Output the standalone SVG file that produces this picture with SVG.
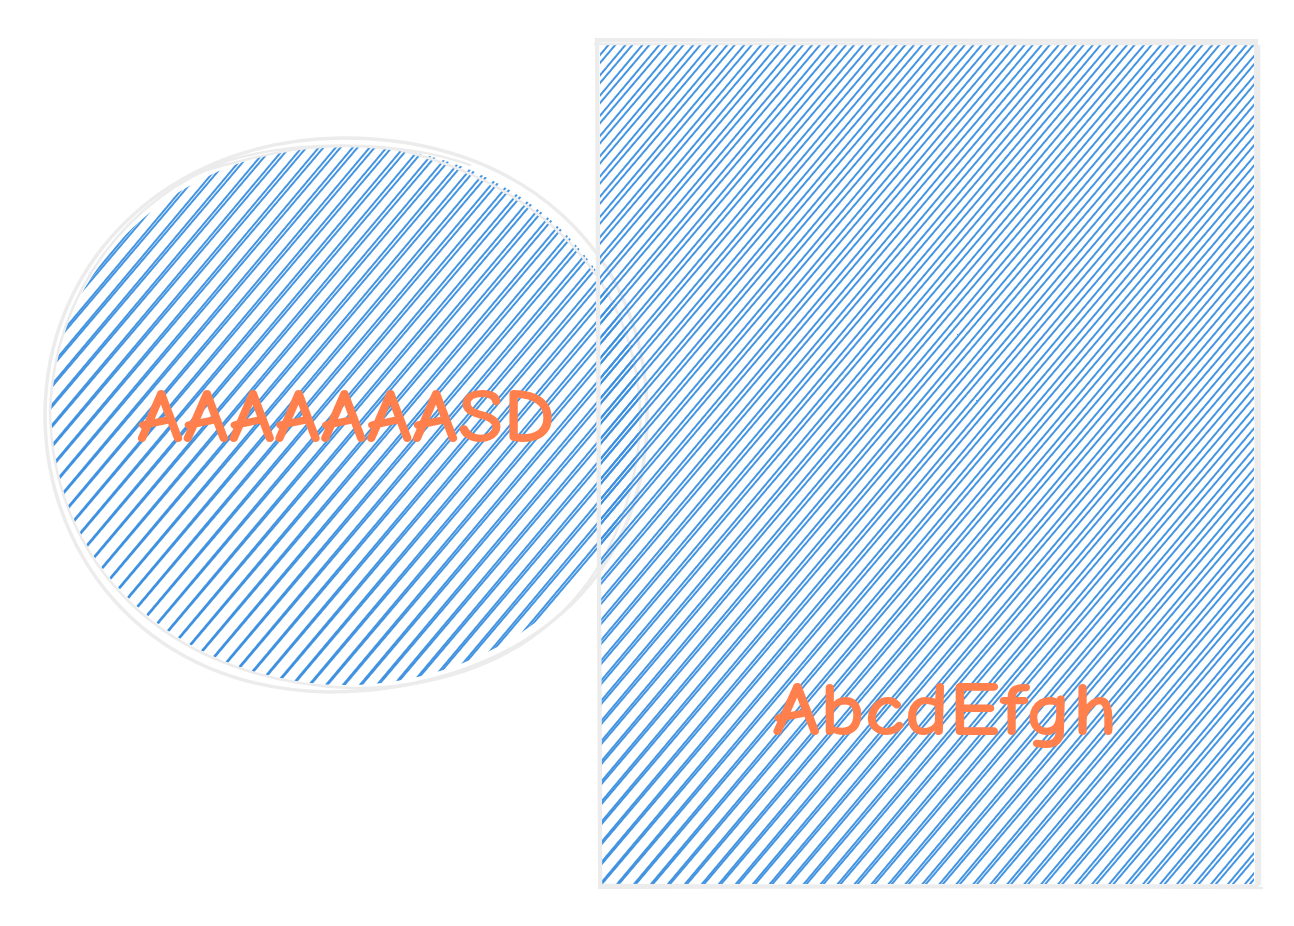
<svg xmlns="http://www.w3.org/2000/svg" width="1294" height="926" viewBox="0 0 1294 926">
<style>
.hl{stroke:#3a8fe0;stroke-width:1.9;fill:none}
.ol{fill:none;stroke:#ececec;stroke-linecap:round}
.lbl{font-family:"Comic Neue","Liberation Sans",sans-serif;font-size:76px;fill:#ff7f4d;font-weight:bold;text-anchor:middle}
</style>
<defs>
<pattern id="h1" patternUnits="userSpaceOnUse" width="13" height="20" patternTransform="rotate(40)">
<line class="hl" x1="1" y1="-2" x2="1" y2="22"/>
</pattern>
<pattern id="h2" patternUnits="userSpaceOnUse" width="13" height="20" patternTransform="rotate(40.35) translate(3 0)">
<line class="hl" x1="1" y1="-2" x2="1" y2="22" stroke-width="1.6"/>
</pattern>
<clipPath id="ce"><ellipse cx="346" cy="415" rx="296" ry="270"/></clipPath>
<clipPath id="cr"><rect x="600" y="44" width="654" height="840"/></clipPath>
</defs>
<g id="ellipse-node">
<g clip-path="url(#ce)">
<rect x="40" y="130" width="620" height="570" fill="url(#h1)"/>
<rect x="40" y="130" width="620" height="570" fill="url(#h2)"/>
</g>
<path class="ol" stroke-width="3.5" d="M330 692 C150 690 48 560 45 420 C43 260 170 140 340 138 C520 136 645 250 647 410 C650 580 520 690 330 692"/>
<path class="ol" stroke-width="2.5" d="M470 165 C400 140 300 140 230 160 C130 195 55 290 50 410 C52 560 160 680 350 688 C520 690 628 590 640 430 C645 300 560 190 400 150 C330 140 280 148 190 175"/>
<text class="lbl" x="346" y="442" textLength="418" lengthAdjust="spacingAndGlyphs">AAAAAAASD</text>
</g>
<g id="rect-node">
<g clip-path="url(#cr)">
<rect x="596" y="40" width="662" height="846" fill="url(#h1)"/>
<rect x="596" y="40" width="662" height="846" fill="url(#h2)"/>
</g>
<path class="ol" stroke-width="4" d="M597 40 L1256 41 L1257 886 L600 887 Z"/>
<path class="ol" stroke-width="2.5" d="M595 44 L1254 44 M1259 46 L1260 884 M1262 888 L603 885 M601 888 L598 42"/>
<text class="lbl" x="945" y="735" textLength="345" lengthAdjust="spacingAndGlyphs">AbcdEfgh</text>
</g>
<g id="connectors"/>
</svg>
